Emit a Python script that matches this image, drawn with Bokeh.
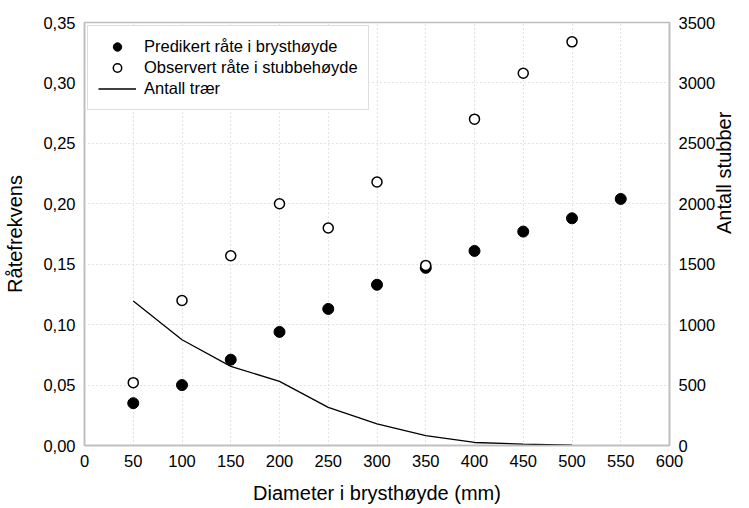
import math
from bokeh.plotting import figure
from bokeh.models import (Range1d, LinearAxis, FixedTicker, CustomJSTickFormatter,
                          Legend, LegendItem)
from bokeh.embed import file_html
from bokeh.resources import INLINE

# ---- data ----
diam_pred = [50, 100, 150, 200, 250, 300, 350, 400, 450, 500, 550]
pred_rate = [0.035, 0.050, 0.071, 0.094, 0.113, 0.133, 0.147, 0.161, 0.177, 0.188, 0.204]

diam_obs = [50, 100, 150, 200, 250, 300, 350, 400, 450, 500]
obs_rate = [0.052, 0.120, 0.157, 0.200, 0.180, 0.218, 0.149, 0.270, 0.308, 0.334]

diam_n = [50, 100, 150, 200, 250, 300, 350, 400, 450, 500]
n_trees = [1195, 875, 655, 530, 315, 178, 82, 25, 12, 3]

x_ticks = [0, 50, 100, 150, 200, 250, 300, 350, 400, 450, 500, 550, 600]
y_ticks = [0.0, 0.05, 0.10, 0.15, 0.20, 0.25, 0.30, 0.35]
y2_ticks = [0, 500, 1000, 1500, 2000, 2500, 3000, 3500]

x_title = "Diameter i brysthøyde (mm)"
y_title = "Råtefrekvens"
y2_title = "Antall stubber"

FONT = "Liberation Sans"
GRID = "#c8c8c8"
FRAME = "#bdbdbd"

p = figure(width=749, height=508, output_backend="svg", toolbar_location=None,
           x_range=Range1d(0, 600), y_range=Range1d(0, 0.35),
           min_border_left=84, min_border_right=78, min_border_top=22,
           min_border_bottom=63)
p.extra_y_ranges = {"n": Range1d(0, 3500)}

p.outline_line_color = FRAME
p.outline_line_width = 1.5

# grids
for g in (p.xgrid, p.ygrid):
    g.grid_line_color = GRID
    g.grid_line_dash = "1 3"
    g.grid_line_width = 1
p.xgrid.ticker = FixedTicker(ticks=x_ticks)
p.ygrid.ticker = FixedTicker(ticks=y_ticks)

# axes
p.xaxis.ticker = FixedTicker(ticks=x_ticks)
p.yaxis.ticker = FixedTicker(ticks=y_ticks)
p.yaxis.formatter = CustomJSTickFormatter(code="return tick.toFixed(2).replace('.', ',');")
p.xaxis.axis_label = x_title
p.yaxis.axis_label = y_title

raxis = LinearAxis(y_range_name="n", ticker=FixedTicker(ticks=y2_ticks),
                   axis_label=y2_title)
p.add_layout(raxis, "right")
if "axis_label_orientation" in raxis.properties():
    raxis.axis_label_orientation = math.pi / 2

for ax in (p.xaxis[0], p.yaxis[0], raxis):
    ax.axis_line_color = FRAME
    ax.axis_line_width = 1.5
    ax.major_tick_line_color = None
    ax.minor_tick_line_color = None
    ax.major_tick_out = 0
    ax.major_tick_in = 0
    ax.minor_tick_out = 0
    ax.minor_tick_in = 0
    ax.major_label_text_font = FONT
    ax.major_label_text_font_size = "16.5px"
    ax.major_label_text_color = "black"
    ax.major_label_standoff = 9
    ax.axis_label_text_font = FONT
    ax.axis_label_text_font_size = "20px"
    ax.axis_label_text_font_style = "normal"
    ax.axis_label_text_color = "black"
p.xaxis.axis_label_standoff = 12
p.yaxis.axis_label_standoff = 14
raxis.axis_label_standoff = 6

# glyphs
r_line = p.line(diam_n, n_trees, y_range_name="n", line_color="black", line_width=1.3)
r_pred = p.scatter(diam_pred, pred_rate, marker="circle", size=11,
                   fill_color="black", line_color="black")
r_obs = p.scatter(diam_obs, obs_rate, marker="circle", size=10,
                  fill_color="white", line_color="black", line_width=1.5)

legend = Legend(items=[
    LegendItem(label="Predikert råte i brysthøyde", renderers=[r_pred]),
    LegendItem(label="Observert råte i stubbehøyde", renderers=[r_obs]),
    LegendItem(label="Antall trær", renderers=[r_line]),
], location="top_left")
legend.margin = 3
legend.padding = 10
legend.spacing = 0
legend.label_height = 21
legend.glyph_height = 21
legend.glyph_width = 38
legend.label_standoff = 8
legend.label_text_font = FONT
legend.label_text_font_size = "16.5px"
legend.label_text_color = "black"
legend.border_line_color = FRAME
legend.border_line_width = 1.5
legend.background_fill_color = "white"
legend.background_fill_alpha = 1
p.add_layout(legend, "center")

open("out.html", "w").write(file_html(p, INLINE))
